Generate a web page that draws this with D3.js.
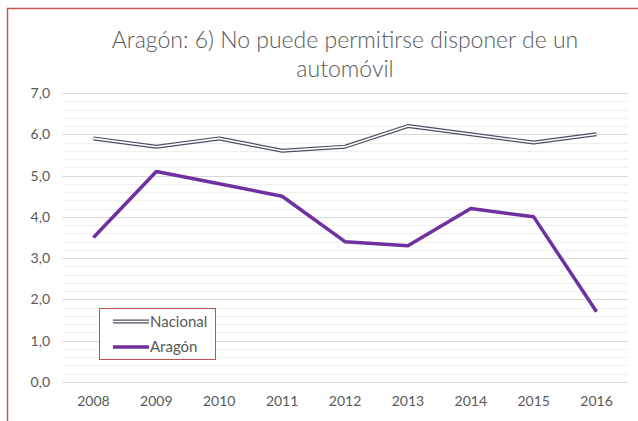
<!DOCTYPE html>
<html>
<head>
<meta charset="utf-8">
<script src="https://cdn.jsdelivr.net/npm/d3@7"></script>
<style>
  body { margin: 0; background: #fff; }
  svg text { font-family: Lato, "Open Sans", sans-serif; fill: #595959; }
</style>
</head>
<body>
<div id="chart"></div>
<script>
const WIDTH = 638;
const HEIGHT = 421;

// data
const years = ["2008", "2009", "2010", "2011", "2012", "2013", "2014", "2015", "2016"];
const nacional = [5.9, 5.7, 5.9, 5.6, 5.7, 6.2, 6.0, 5.8, 6.0];
const aragon = [3.5, 5.1, 4.8, 4.5, 3.4, 3.3, 4.2, 4.0, 1.7];
const titleLines = ["Aragón: 6) No puede permitirse disponer de un", "automóvil"];

const margin = {left: 62, right: 10, top: 93, bottom: 39};

const svg = d3.select("#chart")
    .append("svg")
    .attr("width", WIDTH)
    .attr("height", HEIGHT);

// outer frame (right and bottom run off the picture)
svg.append("rect")
    .attr("x", 7.5).attr("y", 8.5)
    .attr("width", WIDTH + 20).attr("height", HEIGHT + 20)
    .attr("fill", "none")
    .attr("stroke", "#d05050")
    .attr("stroke-width", 1.5);

const x = d3.scaleBand()
    .domain(years)
    .range([margin.left, WIDTH - margin.right]);

const y = d3.scaleLinear()
    .domain([0, 7])
    .range([HEIGHT - margin.bottom, margin.top]);

// minor gridlines
svg.append("g")
    .selectAll("line")
    .data(d3.range(0, 35).map(i => i * 0.2).filter(v => Math.abs(v - Math.round(v)) > 0.01))
    .enter().append("line")
    .attr("x1", margin.left).attr("x2", WIDTH - margin.right)
    .attr("y1", d => Math.round(y(d)) + 0.5).attr("y2", d => Math.round(y(d)) + 0.5)
    .attr("stroke", "#f0f0f0");

// major gridlines
svg.append("g")
    .selectAll("line")
    .data(y.ticks(7))
    .enter().append("line")
    .attr("x1", margin.left).attr("x2", WIDTH - margin.right)
    .attr("y1", d => Math.round(y(d)) + 0.5).attr("y2", d => Math.round(y(d)) + 0.5)
    .attr("stroke", "#d9d9d9");

// y axis labels
const fmt = d => d.toFixed(1).replace(".", ",");
const yAxis = svg.append("g")
    .attr("transform", `translate(${margin.left - 12},0)`)
    .call(d3.axisLeft(y).ticks(7).tickFormat(fmt).tickSize(0).tickPadding(0));
yAxis.select(".domain").remove();
yAxis.selectAll("text").style("font-size", "14px").attr("fill", "#595959");

// x axis labels
const xAxis = svg.append("g")
    .attr("transform", `translate(0,${HEIGHT - margin.bottom})`)
    .call(d3.axisBottom(x).tickSize(0).tickPadding(14));
xAxis.select(".domain").remove();
xAxis.selectAll("text").style("font-size", "14px").attr("fill", "#595959");

const line = d3.line()
    .x((d, i) => x(years[i]) + x.bandwidth() / 2)
    .y(d => y(d));

// Nacional: double line look
svg.append("path")
    .attr("d", line(nacional))
    .attr("fill", "none")
    .attr("stroke", "#4a5160")
    .attr("stroke-width", 4)
    .attr("stroke-linejoin", "round");
svg.append("path")
    .attr("d", line(nacional))
    .attr("fill", "none")
    .attr("stroke", "#ffffff")
    .attr("stroke-width", 1.6)
    .attr("stroke-linejoin", "round");

// Aragon
svg.append("path")
    .attr("d", line(aragon))
    .attr("fill", "none")
    .attr("stroke", "#7030a0")
    .attr("stroke-width", 3.5)
    .attr("stroke-linejoin", "round");

// title
svg.append("g")
    .selectAll("text")
    .data(titleLines)
    .enter().append("text")
    .attr("x", 345)
    .attr("y", (d, i) => 48 + i * 29)
    .attr("text-anchor", "middle")
    .style("font-size", "23px")
    .style("font-weight", 300)
    .text(d => d);

// legend
const legend = svg.append("g").attr("class", "legend");
legend.append("rect")
    .attr("x", 99.5).attr("y", 308.5)
    .attr("width", 116).attr("height", 51)
    .attr("fill", "#fff")
    .attr("stroke", "#c0504d")
    .attr("stroke-width", 1);

const legendItems = [
    {name: "Nacional", dbl: true, color: "#4a5160"},
    {name: "Aragón", dbl: false, color: "#7030a0"}
];
legendItems.forEach((d, i) => {
    const ly = 321.5 + i * 25.5;
    legend.append("line")
        .attr("x1", 113).attr("x2", 149)
        .attr("y1", ly).attr("y2", ly)
        .attr("stroke", d.color)
        .attr("stroke-width", d.dbl ? 4 : 3.5);
    if (d.dbl) {
        legend.append("line")
            .attr("x1", 113).attr("x2", 149)
            .attr("y1", ly).attr("y2", ly)
            .attr("stroke", "#fff")
            .attr("stroke-width", 1.6);
    }
    legend.append("text")
        .attr("x", 150).attr("y", ly + 5)
        .style("font-size", "15px")
        .text(d.name);
});
</script>
</body>
</html>
